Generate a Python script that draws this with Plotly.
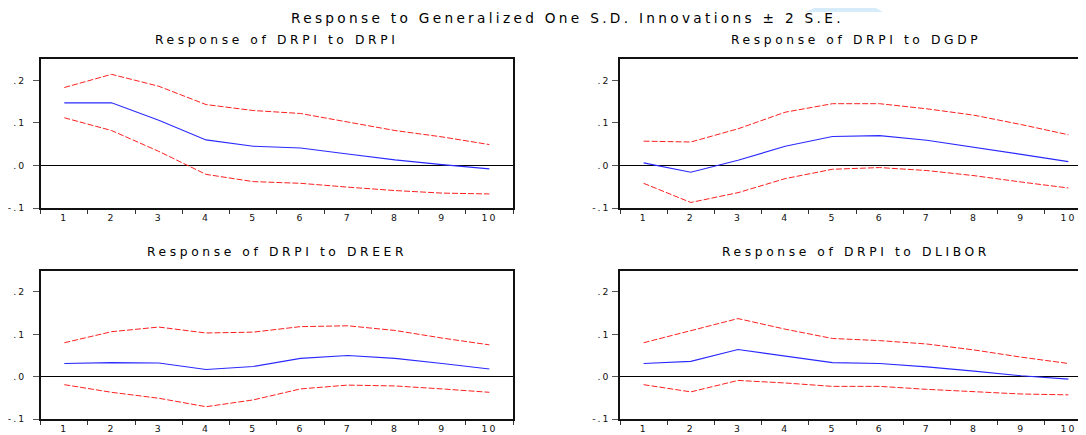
import plotly.graph_objects as go

# ---------------- data ----------------
periods = [str(i) for i in range(1, 11)]

drpi_mid = [0.147, 0.147, 0.106, 0.060, 0.045, 0.041, 0.027, 0.013, 0.002, -0.008]
drpi_hi = [0.183, 0.214, 0.186, 0.143, 0.129, 0.122, 0.102, 0.082, 0.067, 0.049]
drpi_lo = [0.112, 0.082, 0.033, -0.021, -0.038, -0.042, -0.051, -0.059, -0.065, -0.067]

dgdp_mid = [0.006, -0.016, 0.012, 0.045, 0.068, 0.070, 0.059, 0.043, 0.026, 0.009]
dgdp_hi = [0.057, 0.055, 0.086, 0.125, 0.145, 0.145, 0.133, 0.118, 0.096, 0.072]
dgdp_lo = [-0.042, -0.087, -0.064, -0.031, -0.009, -0.005, -0.012, -0.024, -0.039, -0.053]

dreer_mid = [0.031, 0.033, 0.032, 0.017, 0.024, 0.043, 0.050, 0.043, 0.031, 0.018]
dreer_hi = [0.080, 0.106, 0.117, 0.103, 0.105, 0.118, 0.120, 0.109, 0.091, 0.075]
dreer_lo = [-0.019, -0.037, -0.051, -0.071, -0.055, -0.029, -0.020, -0.022, -0.029, -0.037]

dlibor_mid = [0.031, 0.036, 0.064, 0.049, 0.033, 0.031, 0.023, 0.013, 0.002, -0.006]
dlibor_hi = [0.080, 0.109, 0.137, 0.112, 0.090, 0.085, 0.077, 0.063, 0.046, 0.031]
dlibor_lo = [-0.019, -0.036, -0.009, -0.015, -0.023, -0.023, -0.030, -0.035, -0.041, -0.043]

y_tickvals = [-0.1, 0.0, 0.1, 0.2]
y_ticklabels = ["-.1", ".0", ".1", ".2"]

main_title = "Response to Generalized One S.D. Innovations \u00b1 2 S.E."
panel_titles = ["Response of DRPI to DRPI", "Response of DRPI to DGDP",
                "Response of DRPI to DREER", "Response of DRPI to DLIBOR"]

# ---------------- layout helpers ----------------
# the page body has an 8px margin, so the figure is shifted by OFF px
OFF = 8
PAGE_W, PAGE_H = 1086, 435
W, H = PAGE_W - OFF, PAGE_H - OFF
FONT = "DejaVu Sans"


def fx(p):
    return (p - OFF) / W


def fy(p):
    return 1 - (p - OFF) / H


def spaced(t, s):
    return '<span style="letter-spacing:%spx">%s</span>' % (s, t)


panels = [
    dict(mid=drpi_mid, hi=drpi_hi, lo=drpi_lo, x=(40.7, 513.0), y=(59.0, 208.0),
         xr=[-0.5, 9.5], right=False, std=5),
    dict(mid=dgdp_mid, hi=dgdp_hi, lo=dgdp_lo, x=(620.0, 1086.0), y=(59.0, 208.0),
         xr=[-0.5, 9.373], right=True, std=0),
    dict(mid=dreer_mid, hi=dreer_hi, lo=dreer_lo, x=(40.7, 513.0), y=(270.7, 419.0),
         xr=[-0.5, 9.5], right=False, std=5),
    dict(mid=dlibor_mid, hi=dlibor_hi, lo=dlibor_lo, x=(620.0, 1086.0), y=(270.7, 419.0),
         xr=[-0.5, 9.373], right=True, std=0),
]

fig = go.Figure()
layout = dict(
    width=W, height=H,
    margin=dict(l=0, r=0, t=0, b=0),
    paper_bgcolor="white", plot_bgcolor="white",
    showlegend=False,
    font=dict(family=FONT, color="#111111"),
)

annotations = []
red_dash = "6px,2px"

for i, p in enumerate(panels):
    n = "" if i == 0 else str(i + 1)
    xa, ya = "x" + n, "y" + n
    for key, color, dash, wd in (("hi", "#ff2020", red_dash, 1), ("lo", "#ff2020", red_dash, 1),
                                 ("mid", "#2a2aff", "solid", 1.1)):
        fig.add_trace(go.Scatter(x=periods, y=p[key], mode="lines", xaxis=xa, yaxis=ya,
                                 line=dict(color=color, width=wd, dash=dash),
                                 hoverinfo="skip"))
    layout["xaxis" + n] = dict(
        domain=[fx(p["x"][0]), min(1.0, fx(p["x"][1]))], anchor=ya, type="category",
        range=p["xr"], tickson="boundaries", ticks="outside", ticklen=4,
        tickcolor="#333333", tickwidth=1,
        tickmode="array", tickvals=periods, ticktext=[spaced(t, 2) for t in periods],
        tickfont=dict(family=FONT, size=9.3, color="#111111"),
        showline=True, linecolor="#111111", linewidth=1.5, mirror=True,
        showgrid=False, zeroline=False, automargin=False, fixedrange=True,
    )
    layout["yaxis" + n] = dict(
        domain=[fy(p["y"][1]), fy(p["y"][0])], anchor=xa, range=[-0.1, 0.25],
        tickmode="array", tickvals=y_tickvals,
        ticktext=[spaced(t, 2) for t in y_ticklabels],
        ticks="outside", ticklen=6, tickcolor="#555555", tickwidth=1,
        ticklabelstandoff=p["std"],
        tickfont=dict(family=FONT, size=9.3, color="#111111"),
        showline=True, linecolor="#111111", linewidth=1.5,
        mirror=(not p["right"]),
        showgrid=False, zeroline=True, zerolinecolor="#000000", zerolinewidth=1.2,
        automargin=False, fixedrange=True,
    )
    cx = p["x"][0] + 472.3 / 2
    annotations.append(dict(
        text=spaced(panel_titles[i], 3.6), x=fx(cx), y=fy(p["y"][0] - 18.5),
        xref="paper", yref="paper", xanchor="center", yanchor="middle", showarrow=False,
        font=dict(family=FONT, size=12.3, color="#000000"),
    ))

annotations.append(dict(
    text=spaced(main_title, 3.3), x=fx(567), y=fy(18), xref="paper", yref="paper",
    xanchor="center", yanchor="middle", showarrow=False,
    font=dict(family=FONT, size=13.7, color="#000000"),
))
layout["annotations"] = annotations

# faint watermark shape at the top (only its lower part lies inside the figure)
layout["shapes"] = [dict(
    type="path", xref="paper", yref="paper",
    path="M %f %f L %f %f L %f %f L %f %f Z" % (fx(806), fy(12), fx(814), fy(OFF),
                                                fx(876), fy(OFF), fx(883), fy(12)),
    fillcolor="#d6ecfa", line=dict(width=0), layer="below",
)]

fig.update_layout(**layout)
fig.write_html("out.html")
